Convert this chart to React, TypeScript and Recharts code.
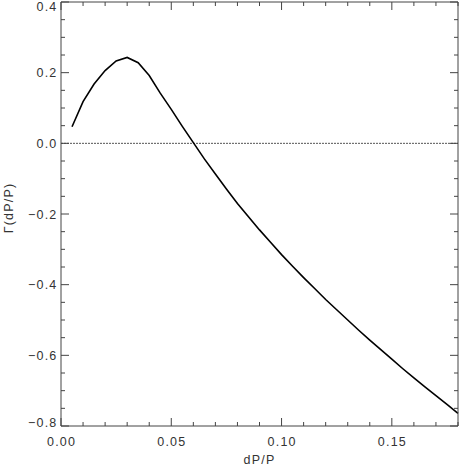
import React from 'react';
import { LineChart, Line, XAxis, YAxis, ReferenceLine } from 'recharts';

const dpOverP = [
  0.005, 0.01, 0.015, 0.02, 0.025, 0.03, 0.035, 0.04, 0.045, 0.05, 0.055, 0.06,
  0.065, 0.07, 0.075, 0.08, 0.085, 0.09, 0.095, 0.1, 0.105, 0.11, 0.115, 0.12,
  0.125, 0.13, 0.135, 0.14, 0.145, 0.15, 0.155, 0.16, 0.165, 0.17, 0.175, 0.18,
];
const gammaValues = [
  0.047, 0.118, 0.168, 0.206, 0.233, 0.243, 0.228, 0.192, 0.142, 0.096, 0.048, 0.002,
  -0.044, -0.087, -0.129, -0.17, -0.208, -0.245, -0.28, -0.315, -0.348, -0.38, -0.411, -0.442,
  -0.471, -0.5, -0.529, -0.557, -0.584, -0.611, -0.638, -0.664, -0.689, -0.714, -0.739, -0.764,
];

const xTicks = [
  0, 0.01, 0.02, 0.03, 0.04, 0.05, 0.06, 0.07, 0.08, 0.09, 0.1, 0.11, 0.12, 0.13,
  0.14, 0.15, 0.16, 0.17, 0.18,
];
const xMajorTicks = [0, 0.05, 0.1, 0.15];
const yTicks = [
  -0.8, -0.75, -0.7, -0.65, -0.6, -0.55, -0.5, -0.45, -0.4, -0.35, -0.3, -0.25, -0.2,
  -0.15, -0.1, -0.05, 0, 0.05, 0.1, 0.15, 0.2, 0.25, 0.3, 0.35, 0.4,
];
const yMajorTicks = [-0.8, -0.6, -0.4, -0.2, 0, 0.2, 0.4];

const xLabel = 'dP/P';
const yLabel = 'Γ(dP/P)';

const data = dpOverP.map((x, i) => ({ x, g: gammaValues[i] }));

const axisColor = '#444';
const textColor = '#333';
const fontFamily = '"Liberation Sans", Arial, sans-serif';
const fontSize = 12.5;
const majorLen = 8;
const minorLen = 4;

const isMajor = (v: number, majors: number[]) => majors.some((m) => Math.abs(m - v) < 1e-9);
const fmtY = (v: number) => {
  const s = Math.abs(v).toFixed(1);
  return v < -1e-9 ? '\u2212' + s : s;
};

const BottomTick = (props: any) => {
  const { x, y, payload } = props;
  const major = isMajor(payload.value, xMajorTicks);
  return (
    <g>
      <line x1={x} x2={x} y1={y} y2={y - (major ? majorLen : minorLen)} stroke={axisColor} strokeWidth={1} />
      {major && (
        <text x={x + 0.6} y={y + 20} textAnchor="middle" fill={textColor} fontFamily={fontFamily} fontSize={fontSize} letterSpacing={1.2}>
          {payload.value.toFixed(2)}
        </text>
      )}
    </g>
  );
};

const TopTick = (props: any) => {
  const { x, y, payload } = props;
  const major = isMajor(payload.value, xMajorTicks);
  return <line x1={x} x2={x} y1={y} y2={y + (major ? majorLen : minorLen)} stroke={axisColor} strokeWidth={1} />;
};

const LeftTick = (props: any) => {
  const { x, y, payload } = props;
  const major = isMajor(payload.value, yMajorTicks);
  const base = Math.min(Math.max(y + 4.5, 11), 427);
  return (
    <g>
      <line x1={x} x2={x + (major ? majorLen : minorLen)} y1={y} y2={y} stroke={axisColor} strokeWidth={1} />
      {major && (
        <text x={x - 3.5} y={base} textAnchor="end" fill={textColor} fontFamily={fontFamily} fontSize={fontSize} letterSpacing={1.2}>
          {fmtY(payload.value)}
        </text>
      )}
    </g>
  );
};

const RightTick = (props: any) => {
  const { x, y, payload } = props;
  const major = isMajor(payload.value, yMajorTicks);
  return <line x1={x} x2={x - (major ? majorLen : minorLen)} y1={y} y2={y} stroke={axisColor} strokeWidth={1} />;
};

const YTitle = (props: any) => {
  const vb = props.viewBox || { x: 0, y: 0, width: 0, height: 0 };
  const cx = vb.x + 9;
  const cy = vb.y + vb.height / 2 - 6;
  return (
    <text
      x={cx}
      y={cy}
      transform={`rotate(-90, ${cx}, ${cy})`}
      textAnchor="middle"
      dominantBaseline="central"
      fill={textColor}
      fontFamily={fontFamily}
      fontSize={fontSize}
      letterSpacing={1.2}
    >
      {yLabel}
    </text>
  );
};

export default function App() {
  return (
    <div style={{ position: 'absolute', left: 0, top: 0, background: '#fff' }}>
      <LineChart width={459} height={468} data={data} margin={{ top: 1, right: 0, left: 0, bottom: 0 }}>
        <XAxis
          dataKey="x"
          type="number"
          domain={[0, 0.18]}
          ticks={xTicks}
          interval={0}
          height={42}
          tickSize={0}
          tickMargin={0}
          tickLine={false}
          stroke={axisColor}
          tick={(p: any) => <BottomTick {...p} />}
          label={{ value: xLabel, position: 'insideBottom', offset: 4, fill: textColor, fontFamily, fontSize, letterSpacing: 1.2 }}
        />
        <XAxis
          xAxisId="top"
          orientation="top"
          dataKey="x"
          type="number"
          domain={[0, 0.18]}
          ticks={xTicks}
          interval={0}
          height={1}
          tickSize={0}
          tickMargin={0}
          tickLine={false}
          stroke={axisColor}
          tick={(p: any) => <TopTick {...p} />}
        />
        <YAxis
          type="number"
          domain={[-0.8, 0.4]}
          ticks={yTicks}
          interval={0}
          width={61}
          tickSize={0}
          tickMargin={0}
          tickLine={false}
          stroke={axisColor}
          tick={(p: any) => <LeftTick {...p} />}
          label={<YTitle />}
        />
        <YAxis
          yAxisId="right"
          orientation="right"
          type="number"
          domain={[-0.8, 0.4]}
          ticks={yTicks}
          interval={0}
          width={1}
          tickSize={0}
          tickMargin={0}
          tickLine={false}
          stroke={axisColor}
          tick={(p: any) => <RightTick {...p} />}
        />
        <ReferenceLine y={0} stroke="#555" strokeDasharray="2 1" strokeWidth={1} />
        <Line
          xAxisId="top"
          yAxisId="right"
          dataKey="g"
          type="linear"
          stroke="none"
          strokeWidth={0}
          dot={false}
          activeDot={false}
          legendType="none"
          isAnimationActive={false}
        />
        <Line dataKey="g" type="linear" stroke="#000" strokeWidth={1.6} dot={false} isAnimationActive={false} />
      </LineChart>
    </div>
  );
}
